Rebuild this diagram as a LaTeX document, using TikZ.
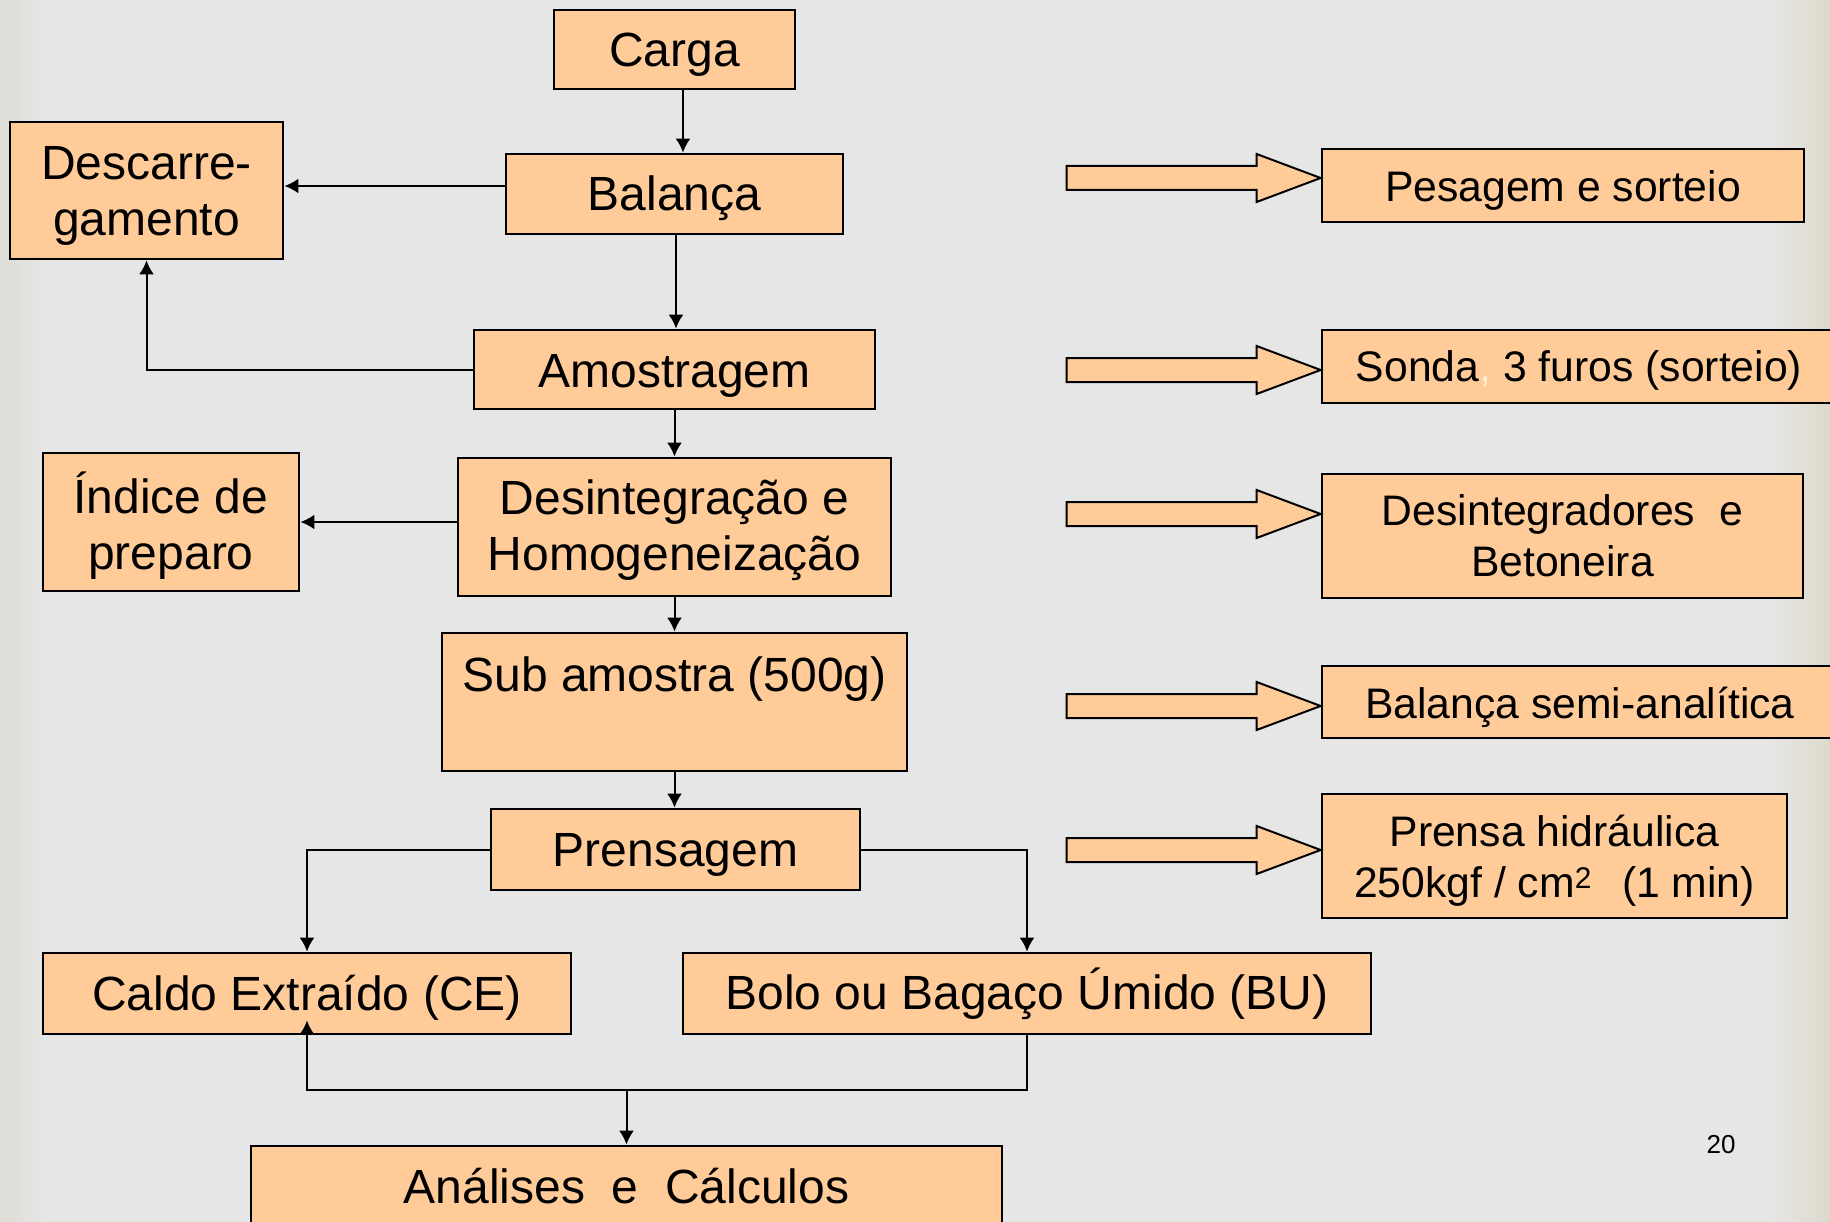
\documentclass[tikz,border=0pt]{standalone}
\usepackage{fontspec}
\setmainfont{Liberation Sans}
\usetikzlibrary{arrows.meta,calc}
\definecolor{peach}{HTML}{FFCC99}
\definecolor{slidebg}{HTML}{E6E6E6}
\definecolor{edgeleft}{HTML}{DDDCD5}
\definecolor{edgeright}{HTML}{DCD9CB}
\definecolor{commac}{HTML}{FFF0D2}

% invisible struts that set the top of the first text line
\newcommand{\topstrut}[1]{\rule{0pt}{#1}}

\tikzset{
  box/.style={draw=black, line width=2.8pt, fill=peach, inner sep=0pt, align=center,
    font={\fontsize{48}{56}\selectfont}},
  sidebox/.style={draw=black, line width=2.8pt, fill=peach, inner sep=0pt, align=center,
    font={\fontsize{42.7}{51}\selectfont}},
  conn/.style={draw=black, line width=2pt, -{Latex[length=14pt,width=15pt]}},
  blockarrow/.pic={
    \draw[fill=peach, line width=2pt, line join=miter]
      (-254,-12) -- (-64,-12) -- (-64,-24) -- (0,0) -- (-64,24) -- (-64,12) -- (-254,12) -- cycle;
  }
}

\begin{document}
\begin{tikzpicture}[x=1pt,y=-1pt]
\useasboundingbox (0,0) rectangle (1830,1222);
\clip (0,0) rectangle (1830,1222);

% slide background
\fill[slidebg] (0,0) rectangle (1830,1222);
\shade[left color=edgeleft, right color=slidebg] (0,0) rectangle (45,1222);
\shade[left color=slidebg, right color=edgeright] (1770,0) rectangle (1830,1222);

% main flow
\node[box, minimum width=241pt, minimum height=79pt] (carga) at (674.5,49.5) {\topstrut{44pt}Carga};
\node[box, minimum width=337pt, minimum height=80pt] (balanca) at (674.5,194) {\topstrut{44pt}Balança};
\node[box, minimum width=273pt, minimum height=137pt] (descarr) at (146.5,190.5) {\topstrut{44pt}Descarre-\\gamento};
\node[box, minimum width=401pt, minimum height=79pt] (amostragem) at (674.5,369.5) {\topstrut{45pt}Amostragem};
\node[box, minimum width=433pt, minimum height=138pt] (desint) at (674.5,527) {\topstrut{42pt}Desintegração e\\Homogeneização};
\node[box, minimum width=256pt, minimum height=138pt] (indice) at (171,522) {\topstrut{48pt}Índice de\\preparo};
\node[box, minimum width=465pt, minimum height=138pt] (sub) at (674.5,702) {Sub amostra (500g)\\\mbox{}};
\node[box, minimum width=369pt, minimum height=81pt] (prensagem) at (675.5,849.5) {\topstrut{44pt}Prensagem};
\node[box, minimum width=528pt, minimum height=81pt] (caldo) at (307,993.5) {\topstrut{43pt}Caldo Extraído (CE)};
\node[box, minimum width=688pt, minimum height=81pt] (bolo) at (1027,993.5) {Bolo ou Bagaço Úmido (BU)};
\node[box, minimum width=751pt, minimum height=80pt] (analises) at (626.5,1186) {Análises~~e~~Cálculos};

% equipment column
\node[sidebox, minimum width=482pt, minimum height=73pt] (pesagem) at (1563,185.5) {\topstrut{40.5pt}Pesagem e sorteio};
\node[sidebox, minimum width=514pt, minimum height=73pt] (sonda) at (1579,366.5) {\topstrut{38.5pt}Sonda{\color{commac},} 3 furos (sorteio)};
\node[sidebox, minimum width=481pt, minimum height=124pt] (desintegradores) at (1562.5,536) {Desintegradores\hspace{24pt}e\\Betoneira};
\node[sidebox, minimum width=516pt, minimum height=72pt] (balsemi) at (1580,702) {\topstrut{42pt}Balança semi-analítica};
\node[sidebox, minimum width=465pt, minimum height=124pt] (prensa) at (1554.5,856) {\topstrut{40.5pt}Prensa hidráulica\\250kgf / cm\textsuperscript{2}\hspace{30pt}(1 min)};

% block arrows pointing at the equipment
\pic at ([yshift=7.5pt]pesagem.west) {blockarrow};
\pic at ([yshift=-3.5pt]sonda.west) {blockarrow};
\pic at ([yshift=22pt]desintegradores.west) {blockarrow};
\pic at ([yshift=-4pt]balsemi.west) {blockarrow};
\pic at ([yshift=6pt]prensa.west) {blockarrow};

% connectors
\draw[conn] ([xshift=8.5pt]carga.south) -- ([xshift=8.5pt]carga.south |- balanca.north);
\coordinate (bw) at ([yshift=8pt]balanca.west);
\draw[conn] (bw) -- (bw -| descarr.east);
\draw[conn] ([xshift=1.5pt]balanca.south) -- ([xshift=1.5pt]balanca.south |- amostragem.north);
\draw[conn] (amostragem.west) -| (descarr.south);
\draw[conn] (amostragem.south) -- (desint.north);
\draw[conn] (desint.west |- indice.east) -- (indice.east);
\draw[conn] (desint.south) -- (sub.north);
\draw[conn] (sub.south) -- (sub.south |- prensagem.north);
\draw[conn] (prensagem.west) -| (caldo.north);
\draw[conn] (prensagem.east) -| (bolo.north);
\coordinate (j) at ($(bolo.south)+(0,55)$);
\draw[conn] (bolo.south) -- (j) -| ([yshift=15pt]caldo.south);
\draw[conn] (j -| analises.north) -- (analises.north);

% page number
\node[font={\fontsize{26}{30}\selectfont}, inner sep=0pt] (pagenum) at (1721,1145) {20};
\end{tikzpicture}
\end{document}
